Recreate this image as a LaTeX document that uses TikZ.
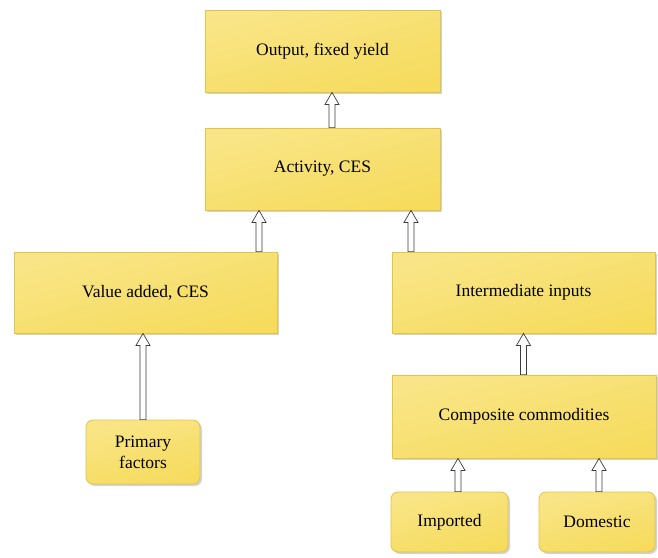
\documentclass[tikz,border=0pt]{standalone}
\usepackage{fontspec}
\setmainfont{Liberation Serif}
\newfontfamily\boxfont{Liberation Serif}
\usetikzlibrary{calc,shadows}
\definecolor{boxGold}{RGB}{244, 214, 72}
\definecolor{boxPale}{RGB}{255, 248, 212}
\definecolor{boxRule}{RGB}{226, 196, 70}
\definecolor{arrowInk}{RGB}{60, 60, 60}
\tikzset{
    stage/.style={draw=boxRule, line width=0.8pt, shading=axis, top color=boxGold!55!boxPale, middle color=boxPale, bottom color=boxGold!85!boxPale, shading angle=15,
        drop shadow={shadow xshift=2pt, shadow yshift=-2pt, opacity=.35},
        align=center, inner sep=0pt, font=\boxfont\fontsize{17.5}{21}\selectfont},
    leaf/.style={stage, rounded corners=7pt},
    upflow/.style={draw=arrowInk, fill=white, line width=0.7pt, to path={
        let \p1=(\tikztostart), \p2=(\tikztotarget) in
        (\x1-3pt,\y1) -- (\x1-3pt,\y2-12pt) -- (\x1-7pt,\y2-12pt) -- (\x1,\y2)
        -- (\x1+7pt,\y2-12pt) -- (\x1+3pt,\y2-12pt) -- (\x1+3pt,\y1) -- cycle}}
}
\begin{document}
\begin{tikzpicture}[x=1pt, y=-1pt]
                \useasboundingbox (0,0) rectangle (658,557);
                % production tree, top to bottom
                \node[stage, minimum width=235pt, minimum height=82pt] (output) at (322.5,51) {Output, fixed yield};
                \node[stage, minimum width=235pt, minimum height=82pt] (activity) at (322.5,169) {Activity, CES};
                \node[stage, minimum width=263pt, minimum height=81pt] (valueadded) at (145.5,292.5) {Value added, CES};
                \node[stage, minimum width=263pt, minimum height=81pt] (interm) at (523.5,292.5) {Intermediate inputs};
                \node[stage, minimum width=264pt, minimum height=83pt] (composite) at (524,416.5) {Composite commodities};
                \node[leaf, minimum width=114pt, minimum height=64pt] (primary) at (143,452) {Primary\\factors};
                \node[leaf, minimum width=117pt, minimum height=60pt] (imported) at (449.5,522) {Imported};
                \node[leaf, minimum width=116pt, minimum height=60pt] (domestic) at (597,522) {Domestic};
                % hollow arrows
                \coordinate (actfoot) at (332,210);
                \path[upflow] (activity.north -| actfoot) to (output.south -| actfoot);
                \coordinate (vafoot) at (259,252);
                \path[upflow] (valueadded.north -| vafoot) to (activity.south -| vafoot);
                \coordinate (iifoot) at (411,252);
                \path[upflow] (interm.north -| iifoot) to (activity.south -| iifoot);
                \path[upflow] (primary.north) to (valueadded.south -| primary.north);
                \path[upflow] (composite.north -| interm.south) to (interm.south);
                \coordinate (impfoot) at (458,492);
                \path[upflow] (imported.north -| impfoot) to (composite.south -| impfoot);
                \coordinate (domfoot) at (599,492);
                \path[upflow] (domestic.north -| domfoot) to (composite.south -| domfoot);
            \end{tikzpicture}
\end{document}
